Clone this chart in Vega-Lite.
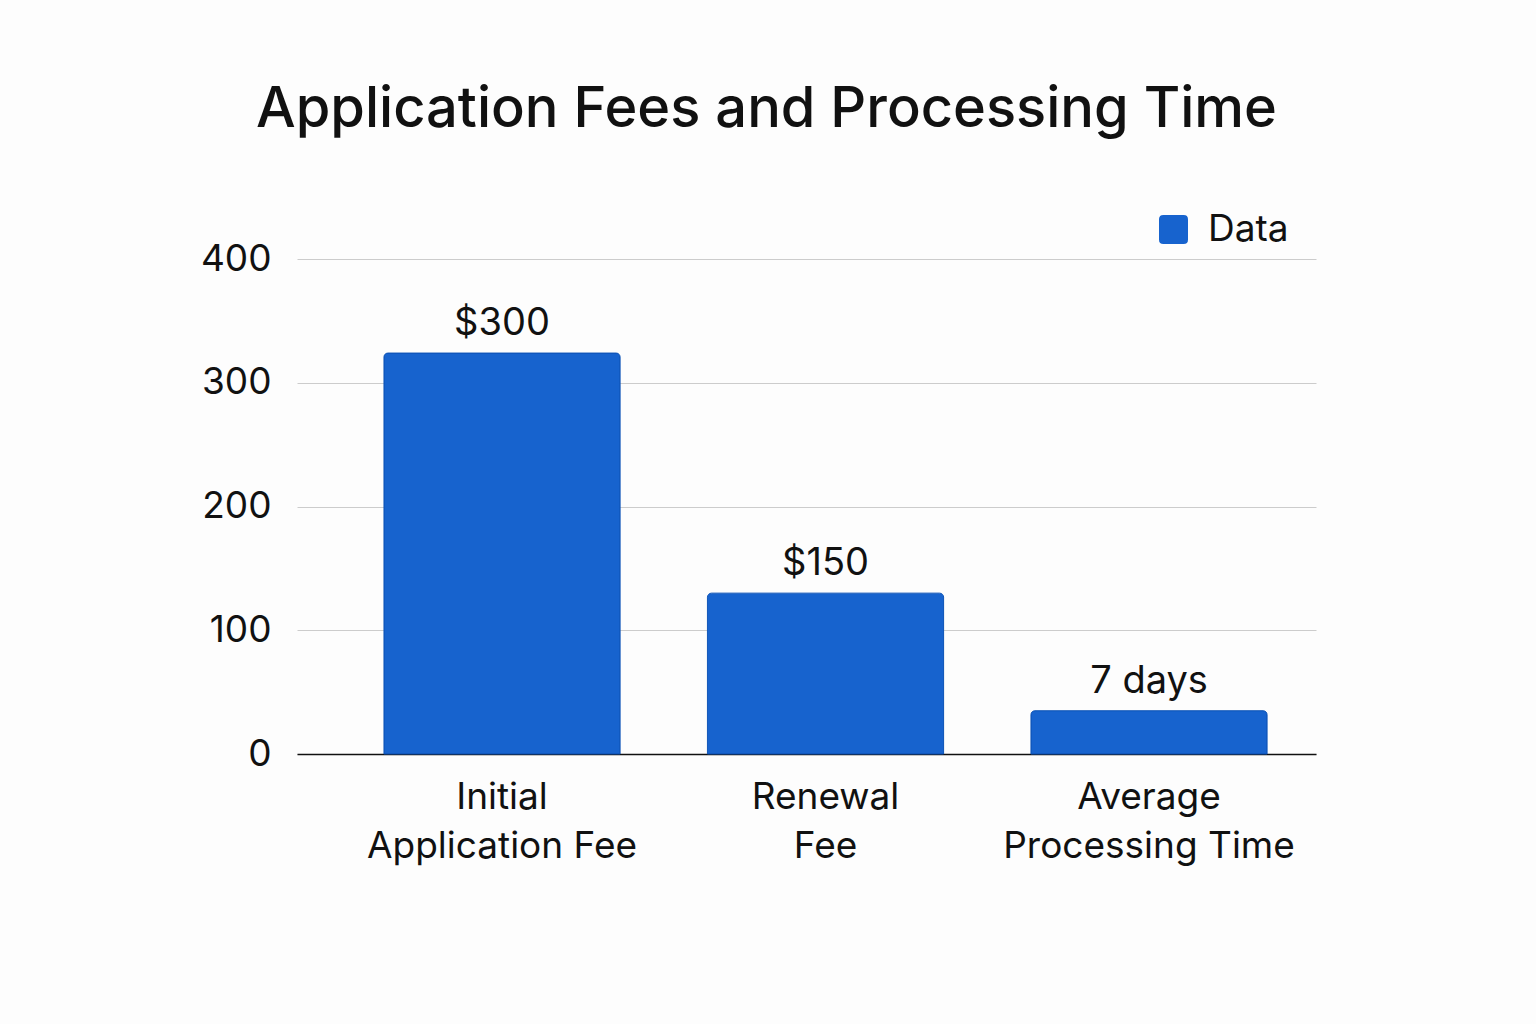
{
  "$schema": "https://vega.github.io/schema/vega-lite/v6.json",
  "width": 1019,
  "height": 495,
  "autosize": {"type": "none"},
  "padding": {"left": 297, "top": 259, "right": 220, "bottom": 270},
  "background": "#fdfdfd",
  "config": {"view": {"stroke": null}},
  "title": {
    "text": "Application Fees and Processing Time",
    "font": "Inter",
    "fontSize": 56,
    "fontWeight": 500,
    "color": "#111111",
    "anchor": "middle",
    "dx": -40,
    "offset": 72
  },
  "data": {
    "values": [
      {"category": "Initial|Application Fee", "value": 324, "label": "$300"},
      {"category": "Renewal|Fee", "value": 130, "label": "$150"},
      {"category": "Average|Processing Time", "value": 35, "label": "7 days"}
    ]
  },
  "encoding": {
    "x": {
      "field": "category",
      "type": "nominal",
      "sort": null,
      "scale": {"paddingInner": 0.27, "paddingOuter": 0.21, "align": 0.64},
      "axis": {
        "title": null,
        "labelAngle": 0,
        "labelExpr": "split(datum.value, '|')",
        "labelFont": "Inter",
        "labelFontSize": 37,
        "labelColor": "#111111",
        "labelLineHeight": 49,
        "labelBaseline": "top",
        "labelPadding": 25,
        "labelLimit": 0,
        "ticks": false,
        "domainColor": "#111111",
        "domainWidth": 1.5
      }
    },
    "y": {
      "field": "value",
      "type": "quantitative",
      "scale": {"domain": [0, 400]},
      "axis": {
        "title": null,
        "values": [0, 100, 200, 300, 400],
        "domain": false,
        "ticks": false,
        "labelFont": "Inter",
        "labelFontSize": 37,
        "labelColor": "#111111",
        "labelPadding": 26,
        "gridColor": "#cccccc",
        "gridWidth": 1
      }
    }
  },
  "layer": [
    {
      "mark": {"type": "bar", "cornerRadiusEnd": 4, "stroke": "#0f55b8", "strokeWidth": 1},
      "encoding": {
        "color": {
          "datum": "Data",
          "type": "nominal",
          "scale": {"range": ["#1763CE"]},
          "legend": {
            "title": null,
            "orient": "none",
            "legendX": 858,
            "legendY": -48,
            "symbolType": "M-0.7,-1L0.7,-1Q1,-1 1,-0.7L1,0.7Q1,1 0.7,1L-0.7,1Q-1,1 -1,0.7L-1,-0.7Q-1,-1 -0.7,-1Z",
            "symbolSize": 841,
            "symbolStrokeWidth": 0,
            "labelFont": "Inter",
            "labelFontSize": 37,
            "labelColor": "#111111",
            "labelOffset": 16
          }
        }
      }
    },
    {
      "mark": {"type": "text", "font": "Inter", "fontSize": 38, "color": "#111111", "baseline": "alphabetic", "dy": -18},
      "encoding": {"text": {"field": "label"}}
    }
  ]
}
